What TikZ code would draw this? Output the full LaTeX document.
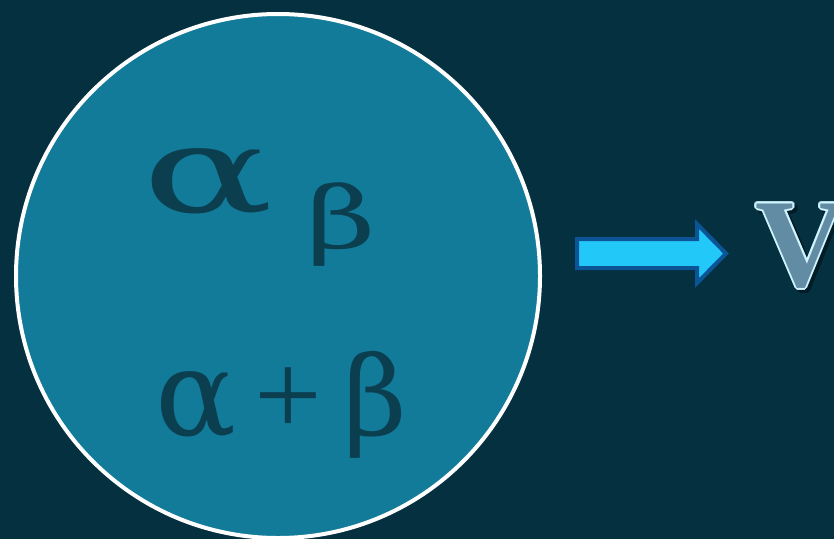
\documentclass[tikz,border=0pt]{standalone}
\usepackage{fontspec}
\usepackage{graphicx}
\usepackage{tikz}
\usepackage{xcolor}
\usepackage{contour}
\setmainfont{Liberation Serif}
\newfontfamily\greekfont{DejaVu Serif}
\contourlength{2pt}
\contournumber{10}
\definecolor{bgc}{HTML}{04303F}
\definecolor{discc}{HTML}{127B9A}
\definecolor{glyphc}{HTML}{0B3F50}
\definecolor{arrowc}{HTML}{22C8F8}
\definecolor{arrowe}{HTML}{0B5597}
\definecolor{vfill}{HTML}{628CA4}
\definecolor{vedge}{HTML}{D0F4FF}
\definecolor{vshade}{HTML}{021C26}
\tikzset{
  disc/.style={fill=discc, draw=white, line width=4pt},
  glyph/.style={text=glyphc, inner sep=0pt, anchor=base west},
  blockarrow/.style={fill=arrowc, draw=arrowe, line width=4pt, line join=miter},
  bigletter/.style={inner sep=0pt, anchor=base west, font=\fontsize{126}{126}\selectfont\bfseries},
}

\begin{document}
\begin{tikzpicture}[x=1pt,y=-1pt]
\useasboundingbox (0,0) rectangle (834,539);
\fill[bgc] (0,0) rectangle (834,539);
\draw[disc] (278,276) circle (262);
\node[glyph] (prod) at (142,212) {\greekfont\fontsize{120}{120}\selectfont\scalebox{1.62}[1]{α}};
\node[glyph] (sub) at (306,248) {\greekfont\fontsize{86}{86}\selectfont\scalebox{1.4}[1]{β}};
\node[glyph] (sum) at (155,435) {\fontsize{120}{120}\selectfont{\greekfont α}\hspace{18pt}+\hspace{22pt}{\greekfont\fontsize{110}{110}\selectfont β}};
\draw[blockarrow] (577,239) -- (697,239) -- (697,224) -- (726,253.5) -- (697,283) -- (697,268) -- (577,268) -- cycle;
\node[bigletter, text=vshade] at (758,289) {\contour{vshade}{V}};
\node[bigletter, text=vfill] (out) at (755,286) {\contour{vedge}{V}};
\end{tikzpicture}
\end{document}
